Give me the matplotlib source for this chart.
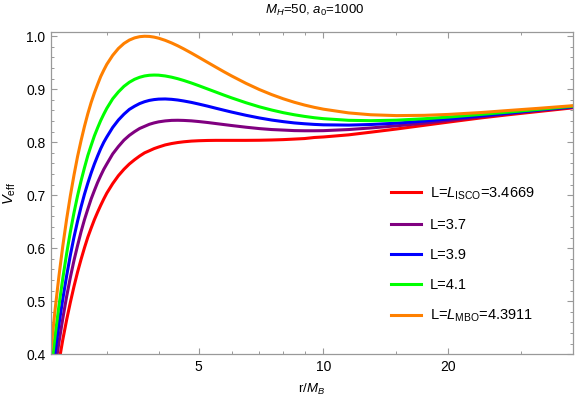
import matplotlib
matplotlib.use('Agg')
import matplotlib.pyplot as plt
from matplotlib.ticker import FixedLocator, FixedFormatter, NullFormatter, MultipleLocator

plt.rcParams['font.family'] = ['Liberation Sans', 'DejaVu Sans']
plt.rcParams['mathtext.fontset'] = 'custom'
plt.rcParams['mathtext.rm'] = 'Liberation Sans'
plt.rcParams['mathtext.it'] = 'Liberation Sans:italic'
plt.rcParams['mathtext.bf'] = 'Liberation Sans:bold'

# r / M_B sample points
r = [2.2, 2.25, 2.3, 2.35, 2.4, 2.45, 2.5, 2.55, 2.6, 2.65,
     2.7, 2.75, 2.8, 2.85, 2.9, 2.95, 3.0, 3.1, 3.2, 3.3,
     3.4, 3.5, 3.6, 3.7, 3.8, 3.9, 4.0, 4.15, 4.3, 4.45,
     4.6, 4.8, 5.0, 5.25, 5.5, 5.75, 6.0, 6.5, 7.0, 7.5,
     8.0, 8.5, 9.0, 9.5, 10, 11.5, 13, 15, 17.5, 20,
     24, 28, 33, 40]

v_isco = [0.286, 0.339, 0.386, 0.428, 0.465, 0.498, 0.528, 0.555, 0.579, 0.601,
          0.621, 0.638, 0.654, 0.668, 0.681, 0.693, 0.704, 0.722, 0.737, 0.749,
          0.759, 0.767, 0.774, 0.780, 0.784, 0.788, 0.791, 0.795, 0.7976, 0.7995,
          0.8009, 0.8022, 0.8029, 0.8034, 0.8036, 0.8036, 0.8036, 0.8036, 0.8038, 0.8043,
          0.805, 0.806, 0.807, 0.809, 0.810, 0.814, 0.819, 0.825, 0.832, 0.838,
          0.846, 0.852, 0.858, 0.865]
v_37 = [0.315, 0.372, 0.423, 0.468, 0.509, 0.545, 0.577, 0.605, 0.631, 0.654,
        0.674, 0.693, 0.709, 0.724, 0.737, 0.749, 0.759, 0.778, 0.792, 0.804,
        0.813, 0.820, 0.826, 0.830, 0.8339, 0.8365, 0.8385, 0.8403, 0.8413, 0.8415,
        0.8412, 0.8404, 0.8391, 0.8373, 0.8353, 0.8334, 0.8316, 0.8284, 0.8258, 0.824,
        0.823, 0.822, 0.8217, 0.8217, 0.8219, 0.824, 0.827, 0.831, 0.836, 0.841,
        0.848, 0.854, 0.860, 0.866]
v_39 = [0.340, 0.402, 0.457, 0.505, 0.548, 0.587, 0.621, 0.651, 0.678, 0.702,
        0.723, 0.742, 0.759, 0.774, 0.788, 0.800, 0.810, 0.828, 0.842, 0.853,
        0.862, 0.868, 0.8730, 0.8765, 0.8790, 0.8805, 0.8814, 0.8817, 0.8810, 0.8797,
        0.8779, 0.8752, 0.8721, 0.8682, 0.8642, 0.8605, 0.8570, 0.8509, 0.8459, 0.8419,
        0.8389, 0.8365, 0.8349, 0.8337, 0.8329, 0.8324, 0.8335, 0.836, 0.840, 0.844,
        0.850, 0.855, 0.861, 0.867]
v_41 = [0.368, 0.434, 0.492, 0.544, 0.590, 0.631, 0.667, 0.699, 0.727, 0.752,
        0.775, 0.794, 0.812, 0.827, 0.841, 0.853, 0.864, 0.882, 0.895, 0.9055,
        0.9132, 0.9188, 0.9226, 0.9251, 0.9264, 0.9268, 0.9266, 0.9251, 0.9228, 0.9199,
        0.9166, 0.9118, 0.9068, 0.9006, 0.8947, 0.8890, 0.8838, 0.8746, 0.8669, 0.8608,
        0.8558, 0.8519, 0.8488, 0.8463, 0.8445, 0.8414, 0.8407, 0.8417, 0.8444, 0.8475,
        0.8526, 0.857, 0.862, 0.868]
v_mbo = [0.409, 0.483, 0.548, 0.605, 0.655, 0.699, 0.738, 0.773, 0.803, 0.830,
         0.854, 0.875, 0.893, 0.909, 0.924, 0.936, 0.947, 0.964, 0.977, 0.9864,
         0.9928, 0.9969, 0.9992, 1.0000, 0.9997, 0.9984, 0.9964, 0.9923, 0.9874, 0.9820,
         0.9762, 0.9683, 0.9604, 0.9508, 0.9417, 0.9331, 0.9252, 0.9112, 0.8995, 0.8899,
         0.8820, 0.8755, 0.8702, 0.8659, 0.8624, 0.8554, 0.8519, 0.8503, 0.8508, 0.8525,
         0.8561, 0.860, 0.864, 0.869]

labels = [r'L=$L_{\mathrm{ISCO}}$=3.4669', 'L=3.7', 'L=3.9', 'L=4.1',
          r'L=$L_{\mathrm{MBO}}$=4.3911']
colors = ['#ff0000', '#800080', '#0000ff', '#00ff00', '#ff8000']

x_major = [5, 10, 20]
x_minor = [3, 4, 6, 7, 8, 9, 15, 30]

fig = plt.figure(figsize=(5.76, 4.01), dpi=100)
ax = fig.add_axes([0.0885, 0.1165, 0.9063, 0.803])

for vals, lab, c in zip([v_isco, v_37, v_39, v_41, v_mbo], labels, colors):
    ax.plot(r, vals, color=c, lw=2.2, label=lab, solid_joinstyle='round')

ax.set_xscale('log')
ax.set_xlim(2.2, 40)
ax.set_ylim(0.4, 1.0075)

ax.xaxis.set_major_locator(FixedLocator(x_major))
ax.xaxis.set_major_formatter(FixedFormatter([str(v) for v in x_major]))
ax.xaxis.set_minor_locator(FixedLocator(x_minor))
ax.xaxis.set_minor_formatter(NullFormatter())
ax.yaxis.set_major_locator(MultipleLocator(0.1))
ax.yaxis.set_minor_locator(MultipleLocator(0.02))
ax.yaxis.set_major_formatter(plt.FuncFormatter(lambda v, p: '%.1f' % v))

frame_col = '#999999'
for s in ax.spines.values():
    s.set_color(frame_col)
    s.set_linewidth(0.9)
ax.tick_params(which='both', direction='in', top=True, right=True,
               color=frame_col, labelsize=10, labelcolor='black')
ax.tick_params(which='major', length=4.5, width=0.8, pad=4)
ax.tick_params(which='minor', length=2.5, width=0.7)

ax.set_xlabel(r'r/$M_B$', fontsize=9.5, labelpad=6)
ax.set_ylabel(r'$V_{\mathrm{eff}}$', fontsize=10.5, labelpad=6)
fig.text(0.547, 0.975, r'$M_H$=50, $a_0$=1000', ha='center', va='center',
         fontsize=9.5)

ax.legend(loc='upper left', bbox_to_anchor=(0.651, 0.525), frameon=False,
          fontsize=10.5, handlelength=2.1, handletextpad=0.6, labelspacing=1.1,
          borderpad=0, borderaxespad=0)

fig.savefig('out.png', dpi=100)
